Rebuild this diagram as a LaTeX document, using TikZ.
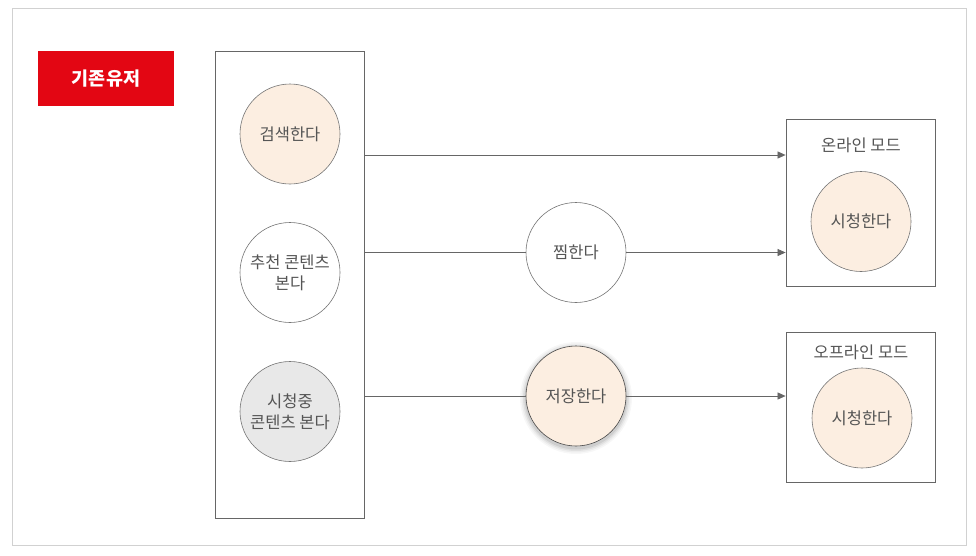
\documentclass[tikz,border=0pt]{standalone}
\usepackage{fontspec}
\setmainfont{Noto Sans CJK KR}
\usetikzlibrary{arrows.meta}
\definecolor{peach}{HTML}{FCEEE1}
\definecolor{lgray}{HTML}{E8E8E8}
\definecolor{txt}{HTML}{555555}
\definecolor{ln}{HTML}{666666}
\definecolor{redbox}{HTML}{E30613}
\tikzset{
  frame/.style={draw=ln, line width=0.8pt},
  act/.style={circle, draw=ln!90, line width=0.6pt, minimum size=100pt, inner sep=0pt, align=center, text=txt, font=\fontsize{16.5}{21}\selectfont},
  title/.style={text=txt, font=\fontsize{16.5}{19}\selectfont, inner sep=0pt},
  conn/.style={draw=ln, line width=0.7pt},
  arr/.style={conn, -{Triangle[length=8pt,width=7pt]}}
}
\begin{document}
\begin{tikzpicture}[x=1pt,y=-1pt]
\useasboundingbox (0,0) rectangle (976,555);
\draw[draw=black!18, line width=0.8pt] (12,8) rectangle (966,545);
% red label
\node[fill=redbox, minimum width=136pt, minimum height=55pt, inner sep=0pt, text=white, font=\fontsize{18.5}{21}\selectfont\bfseries] (user) at (106,78.5) {기존유저};
% left container
\node[frame, minimum width=149pt, minimum height=467pt, inner sep=0pt] (left) at (289.5,284.5) {};
\node[act, fill=peach] (search) at (290,134) {검색한다};
\node[act, fill=white] (reco) at (290,272.5) {추천 콘텐츠\\본다};
\node[act, fill=lgray] (watching) at (290,411.5) {시청중\\콘텐츠 본다};
% middle
\node[act, fill=white] (like) at (576,252.5) {찜한다};
\foreach \r/\o in {56/0.03,54.5/0.04,53/0.06,51.5/0.08}
  \fill[black, opacity=\o] (576,398) circle (\r pt);
\node[act, fill=peach, draw=ln!70!black] (save) at (576,396) {저장한다};
% right containers
\node[frame, minimum width=149pt, minimum height=167pt, inner sep=0pt] (online) at (860.5,202.5) {};
\node[title] (onlinet) at (861,145) {온라인 모드};
\node[act, fill=peach] (watch1) at (861,221.5) {시청한다};
\node[frame, minimum width=149pt, minimum height=150pt, inner sep=0pt] (offline) at (860.5,407) {};
\node[title] (offlinet) at (861,352) {오프라인 모드};
\node[act, fill=peach] (watch2) at (862,418) {시청한다};
% connectors
\coordinate (s1) at (left.east |- 0,155);
\coordinate (e1) at (online.west |- 0,155);
\draw[arr] (s1) -- (e1);
\coordinate (s2) at (left.east |- like.west);
\coordinate (e2) at (online.west |- like.east);
\draw[conn] (s2) -- (like.west);
\draw[arr] (like.east) -- (e2);
\coordinate (s3) at (left.east |- save.west);
\coordinate (e3) at (offline.west |- save.east);
\draw[conn] (s3) -- (save.west);
\draw[arr] (save.east) -- (e3);
\end{tikzpicture}
\end{document}
